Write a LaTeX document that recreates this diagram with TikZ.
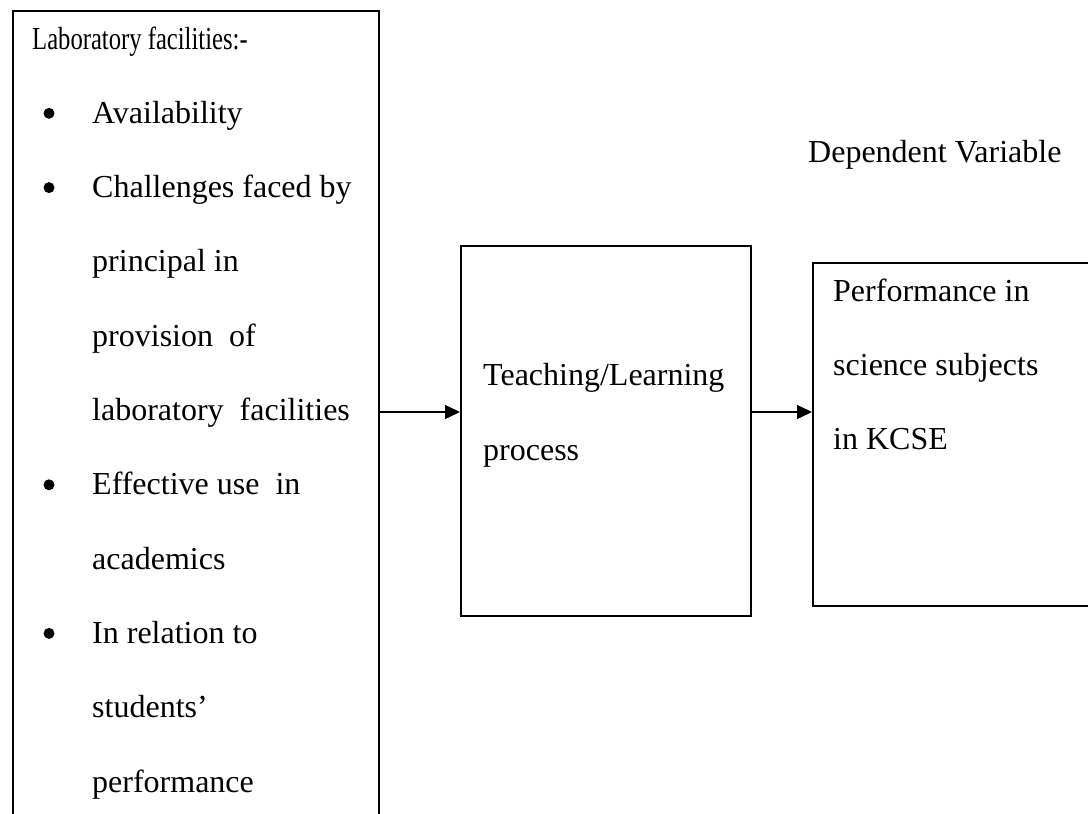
\documentclass[tikz,border=0pt]{standalone}
\usepackage{fontspec}
\setmainfont{Liberation Serif}
\newfontfamily\narrowserif[FakeStretch=0.77]{Liberation Serif}
\usetikzlibrary{arrows.meta}

\tikzset{
  frame/.style={draw, line width=1.6pt, anchor=north west, inner sep=0pt},
  line/.style={anchor=base west, inner sep=0pt},
  dot/.style={circle, fill, inner sep=0pt, minimum size=11pt},
  flow/.style={line width=1.4pt, -{Triangle[length=15pt,width=14pt]}}
}

\begin{document}
\begin{tikzpicture}[x=1pt,y=-1pt,font=\fontsize{32}{40}\selectfont]
    \useasboundingbox (0,0) rectangle (1088,814);

    % Boxes
    \node[frame, minimum width=366pt, minimum height=840pt] (lab)  at (12,10)  {};
    \node[frame, minimum width=290pt, minimum height=370pt] (proc) at (460,245) {};
    \node[frame, minimum width=320pt, minimum height=343pt] (perf) at (812,262) {};

    % Independent variable
    \node[line] (l0)  at (32,49)    {\narrowserif Laboratory facilities:-};
    \node[dot]  (b1)  at (49,113.3) {};
    \node[line] (l1)  at (92,123.3) {Availability};
    \node[dot]  (b2)  at (49,187.6) {};
    \node[line] (l2)  at (92,197.6) {Challenges faced by};
    \node[line] (l3)  at (92,271.9) {principal in};
    \node[line] (l4)  at (92,346.2) {provision\ \ of};
    \node[line] (l5)  at (92,420.5) {laboratory\ \ facilities};
    \node[dot]  (b3)  at (49,484.8) {};
    \node[line] (l6)  at (92,494.8) {Effective use\ \ in};
    \node[line] (l7)  at (92,569.1) {academics};
    \node[dot]  (b4)  at (49,633.4) {};
    \node[line] (l8)  at (92,643.4) {In relation to};
    \node[line] (l9)  at (92,717.7) {students'};
    \node[line] (l10) at (92,792)   {performance};

    % Process
    \node[line] (p1) at (483,385) {Teaching/Learning};
    \node[line] (p2) at (483,460) {process};

    % Dependent variable
    \node[line] (dep) at (808,162) {Dependent Variable};
    \node[line] (r1) at (833,301) {Performance in};
    \node[line] (r2) at (833,375) {science subjects};
    \node[line] (r3) at (833,449) {in KCSE};

    % Arrows
    \coordinate (a1) at (lab.east |- 0,412);
    \draw[flow] (a1) -- (a1 -| proc.west);
    \draw[flow] (a1 -| proc.east) -- (a1 -| perf.west);
\end{tikzpicture}
\end{document}
